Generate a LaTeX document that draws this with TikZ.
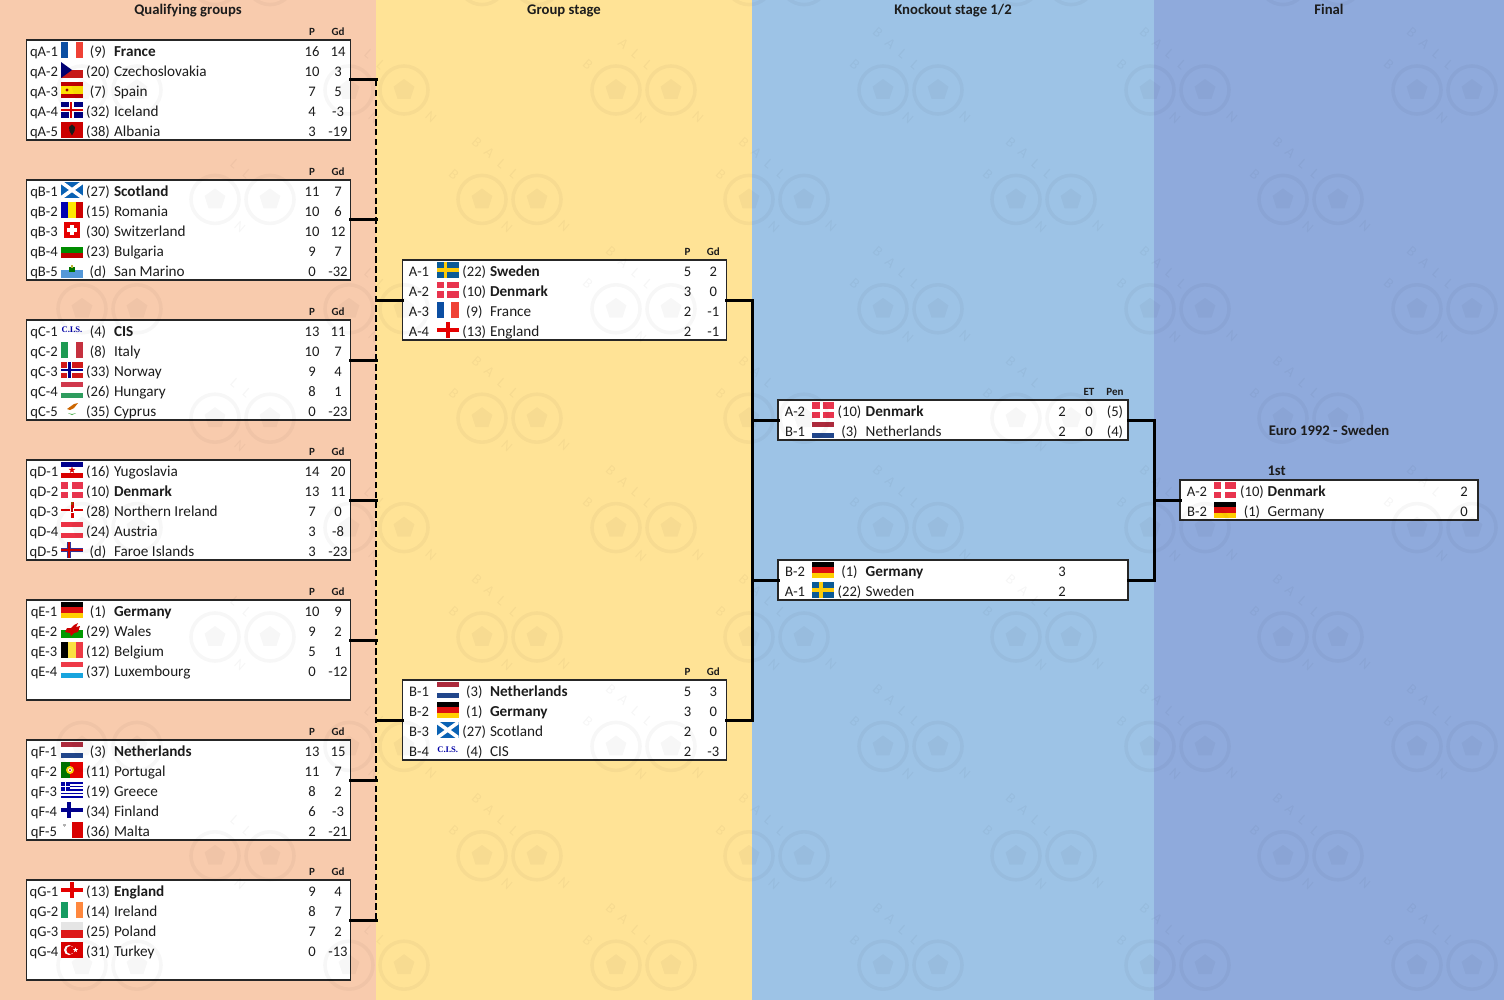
\documentclass[tikz,border=0pt]{standalone}
\usepackage{fontspec}
\setmainfont{Carlito}
\newfontfamily\cisfont{Liberation Serif}
\definecolor{pA}{HTML}{F8CBAD}
\definecolor{pB}{HTML}{FFE396}
\definecolor{pC}{HTML}{9DC3E6}
\definecolor{pD}{HTML}{8FAADC}
\definecolor{ink}{HTML}{1C1C1C}
\definecolor{dkred}{HTML}{E8344E}
\definecolor{frB}{HTML}{0B4EA2}
\definecolor{frR}{HTML}{EF4135}
\definecolor{itG}{HTML}{1E9A52}
\definecolor{itR}{HTML}{C5313F}
\definecolor{huR}{HTML}{D0384C}
\definecolor{huG}{HTML}{2E9C5E}
\definecolor{atR}{HTML}{EC3346}
\definecolor{deR}{HTML}{DD1010}
\definecolor{deY}{HTML}{FFCE00}
\definecolor{beY}{HTML}{FAE042}
\definecolor{beR}{HTML}{ED3A45}
\definecolor{luR}{HTML}{EE3A48}
\definecolor{luB}{HTML}{18A4DE}
\definecolor{nlR}{HTML}{AC2A3C}
\definecolor{nlB}{HTML}{21468B}
\definecolor{ieG}{HTML}{169B62}
\definecolor{ieO}{HTML}{FF883E}
\definecolor{seB}{HTML}{0B5A96}
\definecolor{seY}{HTML}{FDCB0A}
\definecolor{scB}{HTML}{0A62B4}
\tikzset{
  tbox/.style={draw=black!85,line width=1.1pt,fill=white,inner sep=0pt,outer sep=0pt},
  conn/.style={line width=3pt,draw=black,line cap=rect},
  busdash/.style={line width=2pt,draw=black,dash pattern=on 6.4pt off 3.4pt},
  ttxt/.style={inner sep=0pt,outer sep=0pt,text=ink,font=\fontsize{14.6}{16}\selectfont},
  ntxt/.style={inner sep=0pt,outer sep=0pt,text=ink,font=\fontsize{15.2}{16}\selectfont},
  htxt/.style={inner sep=0pt,outer sep=0pt,text=ink,font=\fontsize{11}{12}\selectfont\bfseries},
  ptitle/.style={inner sep=0pt,outer sep=0pt,text=ink,font=\fontsize{14.7}{16}\selectfont\bfseries},
  wmt/.style={inner sep=0pt,outer sep=0pt,text=black,text opacity=0.035,font=\fontsize{14.5}{15}\selectfont}
}
\newcount\nid
\newcommand{\tx}[4][ttxt]{\global\advance\nid by 1\relax\node[#1,anchor=#2] (t\the\nid) at #3 {#4};}
\newcommand{\hb}[3]{\fill[#1] (0,0) rectangle (22,5.33);\fill[#2] (0,5.33) rectangle (22,10.67);\fill[#3] (0,10.67) rectangle (22,16);}
\newcommand{\vb}[3]{\fill[#1] (0,0) rectangle (7.33,16);\fill[#2] (7.33,0) rectangle (14.67,16);\fill[#3] (14.67,0) rectangle (22,16);}
\newcommand{\penta}[3]{\fill[shift={(#1,#2)}] (-90:#3) -- (-18:#3) -- (54:#3) -- (126:#3) -- (198:#3) -- cycle;}
\newcommand{\starp}[4]{\fill[#4,shift={(#1,#2)}] (-90:#3) -- (-54:#3*0.4) -- (-18:#3) -- (18:#3*0.4) -- (54:#3) -- (90:#3*0.4) -- (126:#3) -- (162:#3*0.4) -- (198:#3) -- (234:#3*0.4) -- cycle;}
\newcommand{\flFrance}{\vb{frB}{white}{frR}}
\newcommand{\flCzech}{\fill[white] (0,0) rectangle (22,8);\fill[red!75!black!90] (0,8) rectangle (22,16);\fill[blue!45!black] (0,0) -- (11,8) -- (0,16) -- cycle;}
\newcommand{\flSpain}{\fill[red!75!black] (0,0) rectangle (22,16);\fill[yellow!85!orange] (0,4) rectangle (22,12);\fill[red!60!black] (6,8) circle (1.7);}
\newcommand{\flIceland}{\fill[blue!50!black] (0,0) rectangle (22,16);\fill[white] (7.5,0) rectangle (12.5,16);\fill[white] (0,5.5) rectangle (22,10.5);\fill[red!85!black] (8.8,0) rectangle (11.2,16);\fill[red!85!black] (0,6.8) rectangle (22,9.2);}
\newcommand{\flAlbania}{\fill[red!80!black] (0,0) rectangle (22,16);\fill[black!90] (11,2.5) -- (14,5) -- (13.5,9) -- (11,13.5) -- (8.5,9) -- (8,5) -- cycle;}
\newcommand{\flScotland}{\fill[scB] (0,0) rectangle (22,16);\begin{scope}\clip (0,0) rectangle (22,16);\draw[white,line width=3.6pt] (0,0) -- (22,16);\draw[white,line width=3.6pt] (22,0) -- (0,16);\end{scope}}
\newcommand{\flRomania}{\vb{blue!70!black}{yellow!90!orange}{red!80!black}}
\newcommand{\flSwiss}{\fill[red!90!black] (3,0) rectangle (19,16);\fill[white] (9.3,3) rectangle (12.7,13);\fill[white] (6,6.3) rectangle (16,9.7);}
\newcommand{\flBulgaria}{\hb{white}{green!55!black}{red!75!black}}
\newcommand{\flSanMarino}{\fill[white] (0,0) rectangle (22,8);\fill[cyan!60!blue!70] (0,8) rectangle (22,16);\fill[green!45!black] (8,5) rectangle (14,10);\fill[yellow!70!black] (10,3) rectangle (12,6);}
\newcommand{\flCIS}{\tx[inner sep=0pt,text=blue!65!black,font=\fontsize{8.6}{9}\selectfont\bfseries\cisfont]{center}{(11,7.5)}{C.I.S.}}
\newcommand{\flItaly}{\vb{itG}{white}{itR}}
\newcommand{\flNorway}{\fill[red!80!black!90] (0,0) rectangle (22,16);\fill[white] (6,0) rectangle (11,16);\fill[white] (0,5.5) rectangle (22,10.5);\fill[blue!55!black] (7.4,0) rectangle (9.6,16);\fill[blue!55!black] (0,6.8) rectangle (22,9.2);}
\newcommand{\flHungary}{\hb{huR}{white}{huG}}
\newcommand{\flCyprus}{\fill[orange!80!black] (6,7) -- (13,2) -- (17,1) -- (13,6) -- (9,8) -- cycle;\fill[green!55!black!70] (7,11) -- (11,13) -- (15,11) -- (11,12) -- cycle;}
\newcommand{\flYugo}{\hb{blue!55!black}{white}{red!85!black}\starp{11}{8}{3.6}{red!85!black}}
\newcommand{\flDenmark}{\fill[dkred] (0,0) rectangle (22,16);\fill[white] (7.4,0) rectangle (10.7,16);\fill[white] (0,6.5) rectangle (22,9.5);}
\newcommand{\flNIreland}{\fill[red!85!black] (0,7) rectangle (22,9);\fill[red!85!black] (9.5,0) rectangle (12.5,16);\fill[white] (9,5.5) rectangle (13,10.5);\fill[orange!60!black] (10,0) rectangle (12,3);\fill[red!75!black] (10,6) rectangle (12,10);}
\newcommand{\flAustria}{\hb{atR}{white}{atR}}
\newcommand{\flFaroe}{\fill[blue!50!black!80] (6,0) rectangle (10,16);\fill[blue!50!black!80] (0,6) rectangle (22,10);\fill[red!80!black] (7,0) rectangle (9,16);\fill[red!80!black] (0,7) rectangle (22,9);}
\newcommand{\flGermany}{\hb{black}{deR}{deY}}
\newcommand{\flWales}{\fill[white] (0,0) rectangle (22,8);\fill[green!60!black] (0,8) rectangle (22,16);\fill[red!80!black] (4,10) -- (6,6) -- (10,6) -- (13,3) -- (17,1) -- (15,5) -- (19,4) -- (17,10) -- (13,11) -- (10,14) -- (9,11) -- cycle;}
\newcommand{\flBelgium}{\vb{black}{beY}{beR}}
\newcommand{\flLux}{\hb{luR}{white}{luB}}
\newcommand{\flNetherlands}{\hb{nlR}{white}{nlB}}
\newcommand{\flPortugal}{\fill[green!45!black] (0,0) rectangle (9,16);\fill[red!90!black] (9,0) rectangle (22,16);\fill[yellow!70!orange] (9,8) circle (4);\fill[white] (9,8) circle (2);\fill[red!70!black] (9,8) circle (1);}
\newcommand{\flGreece}{\fill[white] (0,0) rectangle (22,16);\foreach \sy in {0,3.55,7.1,10.65,14.2}{\fill[blue!65!black] (0,\sy) rectangle (22,\sy+1.78);}\fill[blue!65!black] (0,0) rectangle (8.9,8.9);\fill[white] (3.5,0) rectangle (5.3,8.9);\fill[white] (0,3.55) rectangle (8.9,5.33);}
\newcommand{\flFinland}{\fill[blue!55!black] (6,0) rectangle (10,16);\fill[blue!55!black] (0,6) rectangle (22,10);}
\newcommand{\flMalta}{\fill[red!85!black] (11,0) rectangle (22,16);\fill[gray!60] (2.5,1.5) rectangle (3.7,4.5);\fill[gray!60] (1.6,2.4) rectangle (4.6,3.6);}
\newcommand{\flEngland}{\fill[red!90!black] (9,0) rectangle (13,16);\fill[red!90!black] (0,6) rectangle (22,10);}
\newcommand{\flIreland}{\vb{ieG}{white}{ieO}}
\newcommand{\flPoland}{\fill[black!10] (0,0) rectangle (22,8);\fill[red!85!black!90] (0,8) rectangle (22,16);}
\newcommand{\flTurkey}{\fill[red!85!black] (0,0) rectangle (22,16);\fill[white] (8,8) circle (5);\fill[red!85!black] (9.4,8) circle (4);\starp{14.5}{8}{2.6}{white}}
\newcommand{\flSweden}{\fill[seB] (0,0) rectangle (22,16);\fill[seY] (7,0) rectangle (10.5,16);\fill[seY] (0,6.3) rectangle (22,9.7);}
\newcommand{\fl}[3]{\begin{scope}[shift={(#2,#3-8)}]\csname fl#1\endcsname\end{scope}}
% columns
\newcommand{\cols}[6]{\def\cl{#1}\def\cf{#2}\def\cs{#3}\def\cn{#4}\def\cp{#5}\def\cg{#6}}
\newcommand{\base}[5]{%
  \tx{base}{(\cl,#1+6.5)}{#2}\fl{#3}{\cf}{#1}\tx{base}{(\cs,#1+6.5)}{#4}\tx[ntxt]{base west}{(\cn,#1+6.5)}{#5}}
\newcommand{\gr}[7]{\base{#1}{#2}{#3}{#4}{#5}\tx{base}{(\cp,#1+6.5)}{#6}\tx{base}{(\cg,#1+6.5)}{#7}}
\newcommand{\hd}[3]{\tx[htxt]{base}{(\cp,#1-4.5)}{#2}\tx[htxt]{base}{(\cg,#1-4.5)}{#3}}
% a faint watermark letter is set only where no table text lies under it
\newcommand{\inr}[6]{((#1>#3-\wm)&&(#1<#4+\wm)&&(#2>#5-\wm)&&(#2<#6+\wm))}
\newcommand{\wmtxt}[4]{%
  \def\wm{9}%
  \pgfmathtruncatemacro{\wmbad}{(#3<\wm)||(#3>1504-\wm)||(#4<\wm)||(#4>1000-\wm)
   ||\inr{#3}{#4}{26}{222}{25}{985}||\inr{#3}{#4}{302}{350}{25}{985}
   ||\inr{#3}{#4}{130}{250}{0}{25}||\inr{#3}{#4}{520}{610}{0}{25}||\inr{#3}{#4}{890}{1015}{0}{25}||\inr{#3}{#4}{1310}{1350}{0}{25}
   ||\inr{#3}{#4}{404}{572}{260}{340}||\inr{#3}{#4}{678}{725}{245}{340}
   ||\inr{#3}{#4}{404}{572}{680}{760}||\inr{#3}{#4}{678}{725}{665}{760}
   ||\inr{#3}{#4}{780}{945}{400}{440}||\inr{#3}{#4}{1055}{1125}{385}{440}
   ||\inr{#3}{#4}{780}{945}{560}{600}||\inr{#3}{#4}{1055}{1072}{560}{600}
   ||\inr{#3}{#4}{1182}{1330}{462}{520}||\inr{#3}{#4}{1455}{1475}{482}{520}
   ||\inr{#3}{#4}{1265}{1392}{420}{440}}%
  \ifnum\wmbad=0\relax\node[wmt,rotate=-41] (#1) at (#3,#4) {#2};\fi}
\newcommand{\wmlet}[5]{\pgfmathsetmacro{\wxa}{#3+#4}\pgfmathsetmacro{\wya}{#5}\wmtxt{#1}{#2}{\wxa}{\wya}}
\newcommand{\wmark}[3]{%
  \begin{scope}[shift={(#2,#3)},black,opacity=0.03]
    \draw[line width=3.6pt] (0,0) circle (24);
    \draw[line width=3.6pt] (55,0) circle (24);
    \penta{0}{0}{11}\penta{55}{0}{11}
  \end{scope}
  \wmlet{wa#1}{B}{#2}{-5}{#3-57}
  \wmlet{wb#1}{A}{#2}{7.3}{#3-46.3}
  \wmlet{wc#1}{L}{#2}{19.6}{#3-35.6}
  \wmlet{wd#1}{L}{#2}{32}{#3-25}
  \wmlet{we#1}{B}{#2}{-28}{#3-25}
  \wmlet{wf#1}{N}{#2}{25}{#3+28}
  \wmlet{wg#1}{N}{#2}{82}{#3+27}
}
\begin{document}
\begin{tikzpicture}[x=1pt,y=-1pt]
\useasboundingbox (0,0) rectangle (1504,1000);
\fill[pA] (0,0) rectangle (376,1000);
\fill[pB] (376,0) rectangle (752,1000);
\fill[pC] (752,0) rectangle (1154,1000);
\fill[pD] (1154,0) rectangle (1504,1000);
\node[ptitle,anchor=base] (tQ) at (188,15) {Qualifying groups};
\node[ptitle,anchor=base] (tG) at (564,15) {Group stage};
\node[ptitle,anchor=base] (tK) at (953,15) {Knockout stage 1/2};
\node[ptitle,anchor=base] (tF) at (1329,15) {Final};
% boxes
\foreach \n/\yy in {qA/90,qB/230,qC/370,qD/510,qE/650,qF/790,qG/930}{
  \node[tbox,minimum width=324pt,minimum height=100pt] (\n) at (188.5,\yy) {};}
\node[tbox,minimum width=324pt,minimum height=80pt] (gA) at (564.5,300) {};
\node[tbox,minimum width=324pt,minimum height=80pt] (gB) at (564.5,720) {};
\node[tbox,minimum width=350pt,minimum height=40pt] (kA) at (953,420) {};
\node[tbox,minimum width=350pt,minimum height=40pt] (kB) at (953,580) {};
\node[tbox,minimum width=298pt,minimum height=40pt] (fin) at (1329,500) {};
% connectors
\coordinate (bA) at (376,80);
\coordinate (bB) at (376,220);
\coordinate (bC) at (376,360);
\coordinate (bD) at (376,500);
\coordinate (bE) at (376,640);
\coordinate (bF) at (376,780);
\coordinate (bG) at (376,920);
\coordinate (jA) at (376,300);
\coordinate (jB) at (376,720);
\coordinate (sA) at (752,300);
\coordinate (sB) at (752,720);
\coordinate (sKA) at (752,420);
\coordinate (sKB) at (752,580);
\coordinate (rA) at (1154,420);
\coordinate (rB) at (1154,580);
\coordinate (rF) at (1154,500);
\draw[busdash] (bA) -- (bG);
\foreach \n/\b in {qA/bA,qB/bB,qC/bC,qD/bD,qE/bE,qF/bF,qG/bG}{
  \draw[conn] ([yshift=10pt]\n.east) -- (\b);}
\draw[conn] (jA) -- (gA.west);
\draw[conn] (jB) -- (gB.west);
\draw[conn] (gA.east) -- (sA) -- (sB) -- (gB.east);
\draw[conn] (sKA) -- (kA.west);
\draw[conn] (sKB) -- (kB.west);
\draw[conn] (kA.east) -- (rA) -- (rB) -- (kB.east);
\draw[conn] (rF) -- (fin.west);
% qualifying
\cols{44}{61}{98}{114}{312}{338}
\hd{40}{P}{Gd}
\gr{50}{qA-1}{France}{(9)}{\bfseries France}{16}{14}
\gr{70}{qA-2}{Czech}{(20)}{Czechoslovakia}{10}{3}
\gr{90}{qA-3}{Spain}{(7)}{Spain}{7}{5}
\gr{110}{qA-4}{Iceland}{(32)}{Iceland}{4}{-3}
\gr{130}{qA-5}{Albania}{(38)}{Albania}{3}{-19}
\hd{180}{P}{Gd}
\gr{190}{qB-1}{Scotland}{(27)}{\bfseries Scotland}{11}{7}
\gr{210}{qB-2}{Romania}{(15)}{Romania}{10}{6}
\gr{230}{qB-3}{Swiss}{(30)}{Switzerland}{10}{12}
\gr{250}{qB-4}{Bulgaria}{(23)}{Bulgaria}{9}{7}
\gr{270}{qB-5}{SanMarino}{(d)}{San Marino}{0}{-32}
\hd{320}{P}{Gd}
\gr{330}{qC-1}{CIS}{(4)}{\bfseries CIS}{13}{11}
\gr{350}{qC-2}{Italy}{(8)}{Italy}{10}{7}
\gr{370}{qC-3}{Norway}{(33)}{Norway}{9}{4}
\gr{390}{qC-4}{Hungary}{(26)}{Hungary}{8}{1}
\gr{410}{qC-5}{Cyprus}{(35)}{Cyprus}{0}{-23}
\hd{460}{P}{Gd}
\gr{470}{qD-1}{Yugo}{(16)}{Yugoslavia}{14}{20}
\gr{490}{qD-2}{Denmark}{(10)}{\bfseries Denmark}{13}{11}
\gr{510}{qD-3}{NIreland}{(28)}{Northern Ireland}{7}{0}
\gr{530}{qD-4}{Austria}{(24)}{Austria}{3}{-8}
\gr{550}{qD-5}{Faroe}{(d)}{Faroe Islands}{3}{-23}
\hd{600}{P}{Gd}
\gr{610}{qE-1}{Germany}{(1)}{\bfseries Germany}{10}{9}
\gr{630}{qE-2}{Wales}{(29)}{Wales}{9}{2}
\gr{650}{qE-3}{Belgium}{(12)}{Belgium}{5}{1}
\gr{670}{qE-4}{Lux}{(37)}{Luxembourg}{0}{-12}
\hd{740}{P}{Gd}
\gr{750}{qF-1}{Netherlands}{(3)}{\bfseries Netherlands}{13}{15}
\gr{770}{qF-2}{Portugal}{(11)}{Portugal}{11}{7}
\gr{790}{qF-3}{Greece}{(19)}{Greece}{8}{2}
\gr{810}{qF-4}{Finland}{(34)}{Finland}{6}{-3}
\gr{830}{qF-5}{Malta}{(36)}{Malta}{2}{-21}
\hd{880}{P}{Gd}
\gr{890}{qG-1}{England}{(13)}{\bfseries England}{9}{4}
\gr{910}{qG-2}{Ireland}{(14)}{Ireland}{8}{7}
\gr{930}{qG-3}{Poland}{(25)}{Poland}{7}{2}
\gr{950}{qG-4}{Turkey}{(31)}{Turkey}{0}{-13}
% group stage
\cols{419}{436.7}{474.3}{490}{687.5}{713.3}
\hd{260}{P}{Gd}
\gr{270}{A-1}{Sweden}{(22)}{\bfseries Sweden}{5}{2}
\gr{290}{A-2}{Denmark}{(10)}{\bfseries Denmark}{3}{0}
\gr{310}{A-3}{France}{(9)}{France}{2}{-1}
\gr{330}{A-4}{England}{(13)}{England}{2}{-1}
\hd{680}{P}{Gd}
\gr{690}{B-1}{Netherlands}{(3)}{\bfseries Netherlands}{5}{3}
\gr{710}{B-2}{Germany}{(1)}{\bfseries Germany}{3}{0}
\gr{730}{B-3}{Scotland}{(27)}{Scotland}{2}{0}
\gr{750}{B-4}{CIS}{(4)}{CIS}{2}{-3}
% knockout
\cols{795}{812.3}{849.5}{865.7}{1089}{1115}
\hd{400}{ET}{Pen}
\gr{410}{A-2}{Denmark}{(10)}{\bfseries Denmark}{0}{(5)}
\tx{base}{(1062,416.5)}{2}
\gr{430}{B-1}{Netherlands}{(3)}{Netherlands}{0}{(4)}
\tx{base}{(1062,436.5)}{2}
\base{570}{B-2}{Germany}{(1)}{\bfseries Germany}
\tx{base}{(1062,576.5)}{3}
\base{590}{A-1}{Sweden}{(22)}{Sweden}
\tx{base}{(1062,596.5)}{2}
% final
\cols{1197}{1214}{1252}{1267.7}{1464}{1464}
\node[ptitle,anchor=base] (tE) at (1329,435) {Euro 1992 - Sweden};
\tx[ptitle]{base west}{(1267.5,475.5)}{1st}
\base{490}{A-2}{Denmark}{(10)}{\bfseries Denmark}
\tx{base}{(1464,496.5)}{2}
\base{510}{B-2}{Germany}{(1)}{Germany}
\tx{base}{(1464,516.5)}{0}
% watermark
\begin{scope}
\clip (0,0) rectangle (1504,1000);
\foreach \k in {-1,...,8}{
  \foreach \m in {0,...,5}{
    \pgfmathsetmacro{\wx}{(iseven(\k)?82:215)+267*\m}
    \pgfmathsetmacro{\wy}{90+109.4*\k}
    \wmark{a\k b\m}{\wx}{\wy}
  }
}
\end{scope}
\end{tikzpicture}
\end{document}
